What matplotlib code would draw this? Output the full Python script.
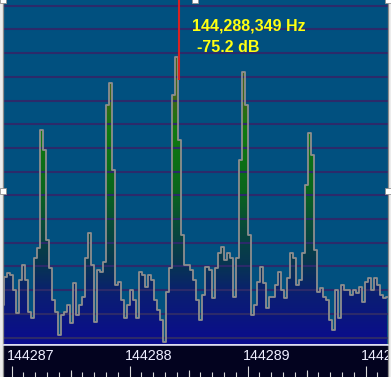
import numpy as np
import matplotlib
matplotlib.use("Agg")
import matplotlib.pyplot as plt
from matplotlib.colors import LinearSegmentedColormap
from matplotlib.patches import Rectangle
from matplotlib import transforms

# spectrum trace, one value per FFT bin (dB)
level_db = [
    -101.0, -95.4, -94.6, -95.0, -98.0, -102.6, -96.0, -93.0, -96.0, -102.4,
    -103.6, -91.6, -89.6, -66.0, -70.0, -88.0, -93.6, -100.0, -102.4, -107.0,
    -103.0, -102.4, -101.0, -104.6, -96.6, -103.0, -101.0, -99.4, -91.6, -86.6,
    -93.0, -104.4, -94.0, -94.4, -92.4, -61.0, -56.6, -74.0, -97.0, -96.4,
    -100.0, -103.6, -101.0, -98.0, -100.0, -103.6, -94.4, -95.0, -97.4, -95.0,
    -96.0, -100.0, -102.0, -104.0, -108.4, -98.4, -93.6, -59.0, -51.4, -68.0,
    -87.0, -93.0, -93.0, -94.0, -96.0, -100.0, -104.0, -99.0, -93.4, -94.0,
    -99.6, -93.6, -90.6, -89.4, -92.0, -90.6, -91.6, -99.4, -91.6, -72.0,
    -54.4, -61.0, -87.0, -103.0, -101.0, -96.4, -93.4, -96.6, -101.6, -99.4,
    -99.4, -97.0, -94.4, -98.0, -99.6, -95.6, -90.6, -91.6, -97.0, -96.0,
    -90.6, -77.0, -66.6, -71.0, -90.0, -98.4, -97.6, -99.4, -100.0, -104.0,
    -106.0, -98.0, -103.6, -97.0, -98.0, -98.0, -99.0, -98.0, -98.6, -97.4,
    -100.4, -96.4, -95.6, -98.0, -95.6, -97.0, -99.0, -99.6, -99.4,
]
first_bin_khz = 144286.926
last_bin_khz = 144290.181
freq_khz = np.linspace(first_bin_khz, last_bin_khz, len(level_db))

view_khz = (144286.924, 144290.189)
view_db = (-108.8, -40.0)

cursor_khz = 144288.42
cursor_db = -56.0
cursor_freq_text = "144,288,349 Hz"
cursor_level_text = "-75.2 dB"

tick_khz = [144287, 144288, 144289, 144290]
tick_labels = ["144287", "144288", "144289", "144290"]

# horizontal grid levels
grid_db = -41.14 - 4.74 * np.arange(15)

fill_stops = [
    (-108.8, "#0a0c8e"),
    (-99.0, "#0b1e72"),
    (-93.0, "#073552"),
    (-86.0, "#08483c"),
    (-78.0, "#0a661c"),
    (-66.0, "#107a10"),
    (-60.0, "#3a6616"),
    (-40.0, "#5c5c22"),
]

fig = plt.figure(figsize=(3.91, 3.77), dpi=100, facecolor="#ececec")
W, H = 391.0, 377.0
left = 2.7 / W
width = (388.0 - 2.7) / W

ax = fig.add_axes([left, 33.0 / H, width, 344.0 / H])
ax.set_facecolor("#01507f")
ax.set_xlim(*view_khz)
ax.set_ylim(*view_db)

# gradient fill under the trace
span = view_db[1] - view_db[0]
cmap = LinearSegmentedColormap.from_list(
    "spec", [((v - view_db[0]) / span, c) for v, c in fill_stops])
grad = np.linspace(0, 1, 256).reshape(-1, 1)
poly = ax.fill_between(freq_khz, level_db, view_db[0], step="mid",
                       facecolor="none", edgecolor="none")
im = ax.imshow(grad, extent=[view_khz[0], view_khz[1], view_db[0], view_db[1]],
               origin="lower", aspect="auto", cmap=cmap, zorder=1)
im.set_clip_path(poly.get_paths()[0], transform=ax.transData)

ax.hlines(grid_db, view_khz[0], view_khz[1], color="#2c2a6a", lw=1.5, zorder=2)
ax.plot(freq_khz, level_db, color="#8e8e8e", lw=1.3, drawstyle="steps-mid",
        zorder=3)
ax.vlines(cursor_khz, cursor_db, view_db[1], color="#d82222", lw=1.5, zorder=4)

ax.text(0.4913, 0.910, cursor_freq_text, transform=ax.transAxes,
        color="#ffff10", fontsize=11.5, fontweight="bold",
        family="Liberation Sans", ha="left", va="baseline", zorder=5)
ax.text(0.5042, 0.849, cursor_level_text, transform=ax.transAxes,
        color="#ffff10", fontsize=11.5, fontweight="bold",
        family="Liberation Sans", ha="left", va="baseline", zorder=5)

ax.set_xticks([])
ax.set_yticks([])
for s in ["top", "bottom"]:
    ax.spines[s].set_visible(False)
for s in ["left", "right"]:
    ax.spines[s].set_color("#8c8c8c")
    ax.spines[s].set_linewidth(0.9)

# frequency scale bar
bar = fig.add_axes([left, 0.0, width, 32.0 / H])
bar.set_facecolor("#03031f")
bar.set_xlim(*view_khz)
bar.set_ylim(0, 1)
bar.set_yticks([])
bar.set_xticks(tick_khz)
bar.xaxis.set_minor_locator(matplotlib.ticker.MultipleLocator(0.1))
bar.tick_params(axis="x", which="major", direction="in", length=7.9,
                width=0.8, color="#d8d8d8", labelbottom=False)
bar.tick_params(axis="x", which="minor", direction="in", length=3.6,
                width=0.8, color="#d8d8d8")
half_khz = np.array(tick_khz[:-1]) + 0.5
blend = transforms.blended_transform_factory(bar.transData, bar.transAxes)
bar.vlines(half_khz, 0, 7.5 / 32, transform=blend, color="#d8d8d8", lw=0.8)
lab_trans = transforms.offset_copy(blend, fig=fig, x=-4.5, y=0, units="dots")
for f, lab in zip(tick_khz, tick_labels):
    bar.text(f, 0.87, lab, transform=lab_trans, color="#eeeeff", fontsize=10.3,
             family="Liberation Sans", ha="left", va="top", clip_on=True)
bar.spines["top"].set_color("#dcdcf0")
bar.spines["top"].set_linewidth(1.2)
bar.spines["bottom"].set_visible(False)
for s in ["left", "right"]:
    bar.spines[s].set_color("#8c8c8c")
    bar.spines[s].set_linewidth(0.9)

# selection handles
for cx, cy in [(3, 0), (195, 0), (388, 0), (3, 191), (388, 191)]:
    fig.add_artist(Rectangle(((cx - 3) / W, 1 - (cy + 3) / H), 6 / W, 6 / H,
                             transform=fig.transFigure, facecolor="white",
                             edgecolor="#909090", lw=0.6, zorder=10))

fig.savefig("out.png", dpi=100, facecolor=fig.get_facecolor())
